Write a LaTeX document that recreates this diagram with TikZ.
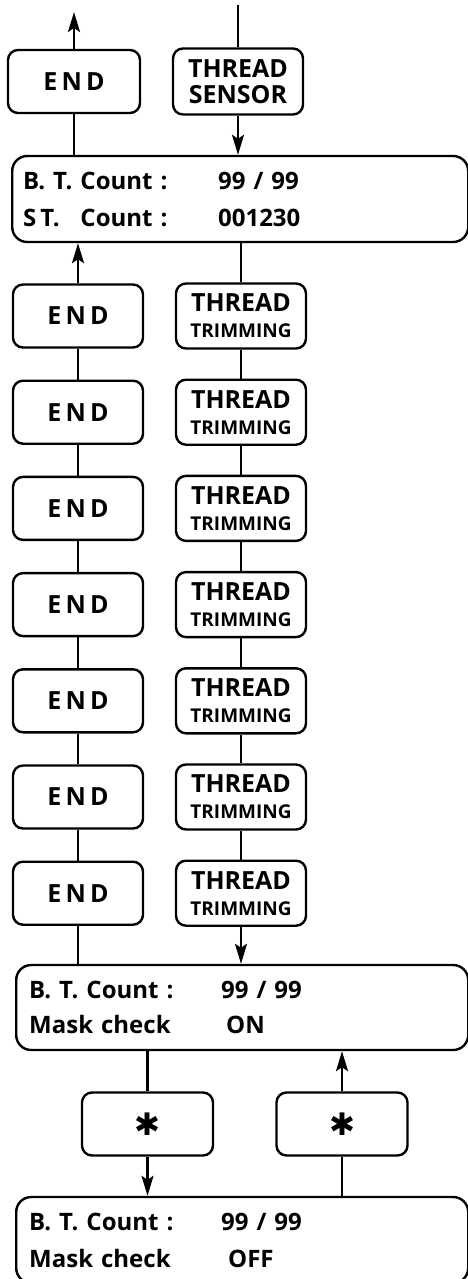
\documentclass[tikz,border=0pt]{standalone}
\usepackage{fontspec}
\setmainfont{Open Sans}
\newfontfamily\symfont{DejaVu Sans}
\usetikzlibrary{arrows.meta,positioning}
\newcommand{\panelfont}[1]{\fontsize{24}{#1}\selectfont\bfseries}
\newcommand{\smallcaps}{\fontsize{19}{26}\selectfont}
\newcommand{\starsym}{{\symfont\fontsize{31}{31}\selectfont ✱}}
\tikzset{
  key/.style={draw,line width=2.4pt,rounded corners=10pt,minimum width=130pt,
    minimum height=63pt,inner sep=0pt,align=center,font=\fontsize{25}{26}\selectfont\bfseries},
  panel/.style={draw,line width=2.4pt,rounded corners=15pt,anchor=west,align=left},
  flow/.style={line width=2.4pt},
  arr/.style={flow,-{Stealth[length=20pt,width=12pt,inset=4pt]}}
}
\begin{document}
\begin{tikzpicture}[x=1pt,y=-1pt]
\useasboundingbox (0,0) rectangle (468,1279);
% top row
\node[key,minimum width=132pt] (end0) at (74,81.5) {E\,N\,D};
\node[key,minimum width=130pt,minimum height=66pt] (sensor) at (238,81.5) {THREAD\\SENSOR};
\coordinate (exit) at (74,12);
\coordinate (feed) at (238,5);
% counter display
\node[panel,minimum width=456pt,minimum height=86pt,inner xsep=11pt,text width=434pt,
  font=\panelfont{37}] (count) at (11,199)
  {\makebox[195pt][l]{B. T. Count :}99 / 99\\
   \makebox[195pt][l]{\rlap{S\,T.}\phantom{B. T. }Count :}001230};
% seven thread trimmings
\foreach \i in {1,...,7}{
  \node[key] (end\i) at (78,{316+(\i-1)*96.2}) {E\,N\,D};
  \node[key,minimum height=65pt] (trim\i) at (241,{316+(\i-1)*96.2}) {THREAD\\{\smallcaps TRIMMING}};
}
\foreach \i [count=\j from 2] in {1,...,6}{
  \draw[flow] (end\i) -- (end\j);
  \draw[flow] (trim\i) -- (trim\j);
}
% mask check displays
\node[panel,minimum width=452pt,minimum height=85pt,inner xsep=13pt,text width=426pt,
  font=\panelfont{35}] (mask) at (15,1007.5)
  {\makebox[192pt][l]{B. T. Count :}99 / 99\\\makebox[197pt][l]{Mask check}ON};
\node[key,minimum width=131pt] (star1) at (147.5,1124) {\starsym};
\node[key,minimum width=131pt] (star2) at (342,1124) {\starsym};
\node[panel,minimum width=452pt,minimum height=86pt,inner xsep=13pt,text width=426pt,
  font=\panelfont{37}] (off) at (15,1240)
  {\makebox[192pt][l]{B. T. Count :}99 / 99\\\makebox[199pt][l]{Mask check}OFF};
% connectors
\draw[arr] (end0) -- (exit);
\draw[flow] (feed) -- (sensor);
\draw[arr] (sensor) -- (sensor |- count.north);
\draw[flow] (count.north -| end0) -- (end0);
\draw[arr] (end1) -- (end1 |- count.south);
\draw[flow] (count.south -| trim1) -- (trim1);
\draw[flow] (end7) -- (end7 |- mask.north);
\draw[arr] (trim7) -- (trim7 |- mask.north);
\draw[flow] (mask.south -| star1) -- (star1);
\draw[arr] (star1) -- (star1 |- off.north);
\draw[flow] (off.north -| star2) -- (star2);
\draw[arr] (star2) -- (star2 |- mask.south);
\end{tikzpicture}
\end{document}
